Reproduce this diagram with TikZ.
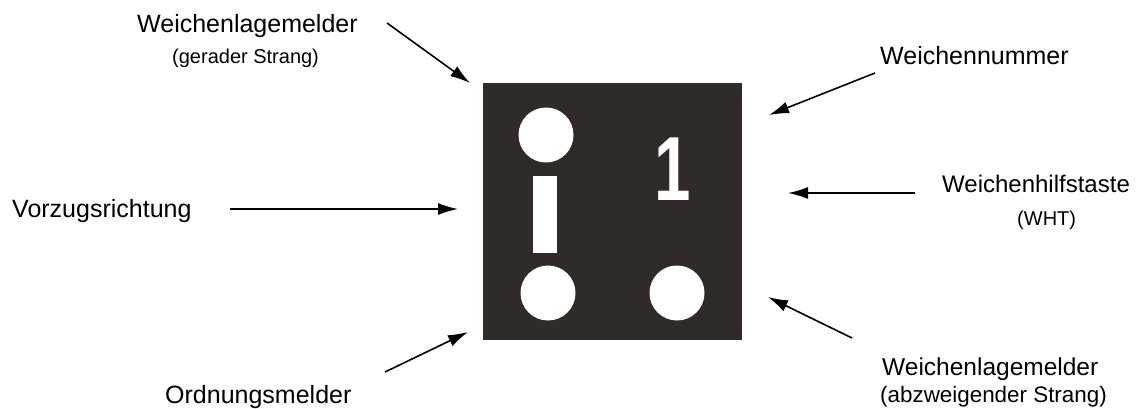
\documentclass[tikz,border=0pt]{standalone}
\usepackage{fontspec}
\setmainfont{Liberation Sans}
\usetikzlibrary{arrows.meta}
\definecolor{panel}{RGB}{48,42,40}
\tikzset{
  lbl/.style={inner sep=0pt, anchor=base west, font=\fontsize{25}{30}\selectfont},
  sublbl/.style={inner sep=0pt, anchor=base west, font=\fontsize{20}{24}\selectfont},
  pointer/.style={line width=1.6pt, -{Latex[length=20pt,width=12pt]}},
  lamp/.style={circle, fill=white, minimum size=55pt, inner sep=0pt},
}
\begin{document}
\begin{tikzpicture}[x=1pt,y=-1pt]
\useasboundingbox (0,0) rectangle (1142,409);
% panel
\node[fill=panel, minimum width=259pt, minimum height=257pt, inner sep=0pt, anchor=north west] (panel) at (483,83) {};
\node[lamp] (l1) at (546,135) {};
\node[lamp] (l2) at (548,293) {};
\node[lamp] (l3) at (677,293) {};
\node[fill=white, minimum width=24pt, minimum height=77pt, inner sep=0pt, anchor=north west] (bar) at (533,176) {};
\node[inner sep=0pt, anchor=base, text=white, xscale=0.72, font=\fontsize{91}{100}\selectfont\bfseries] (num) at (673,200) {1};
% labels
\node[lbl] (t1) at (137,33) {Weichenlagemelder};
\node[sublbl] (t1b) at (172,64) {(gerader Strang)};
\node[lbl] (t2) at (880,65) {Weichennummer};
\node[lbl, font=\fontsize{24}{28}\selectfont] (t3) at (942,192) {Weichenhilfstaste};
\node[sublbl] (t3b) at (1017,225) {(WHT)};
\node[lbl] (t4) at (12,217) {Vorzugsrichtung};
\node[lbl] (t5) at (165,403) {Ordnungsmelder};
\node[lbl, font=\fontsize{24.5}{29}\selectfont] (t6) at (882,375) {Weichenlagemelder};
\node[sublbl, font=\fontsize{22.4}{27}\selectfont] (t6b) at (880,402) {(abzweigender Strang)};
% arrow ends
\coordinate (a1s) at (387,23);  \coordinate (a1e) at (470,83);
\coordinate (a2s) at (875,73);  \coordinate (a2e) at (769,115);
\coordinate (a3s) at (915,193); \coordinate (a3e) at (788,193);
\coordinate (a4s) at (852,338); \coordinate (a4e) at (768,297);
\coordinate (a5s) at (385,372); \coordinate (a5e) at (468,332);
\coordinate (a6s) at (230,209); \coordinate (a6e) at (458,209);
\draw[pointer] (a1s) -- (a1e);
\draw[pointer] (a2s) -- (a2e);
\draw[pointer] (a3s) -- (a3e);
\draw[pointer] (a4s) -- (a4e);
\draw[pointer] (a5s) -- (a5e);
\draw[pointer] (a6s) -- (a6e);
\end{tikzpicture}
\end{document}
